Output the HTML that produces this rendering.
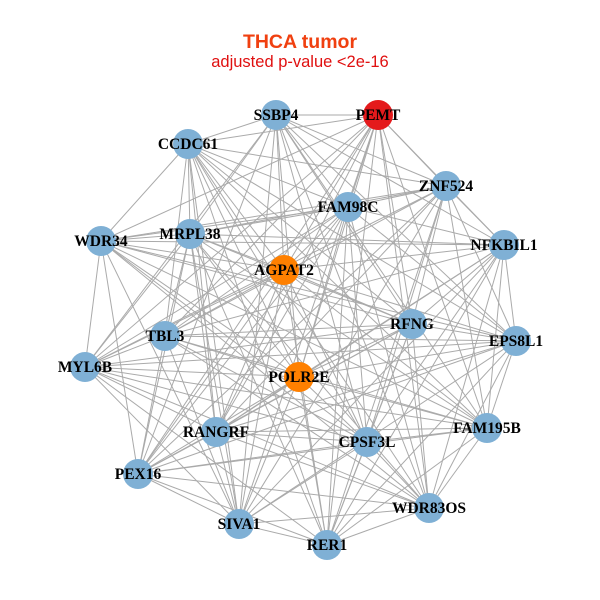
<!DOCTYPE html>
<html><head><meta charset="utf-8"><style>
html,body{margin:0;padding:0;background:#fff;width:600px;height:600px;overflow:hidden}
svg text{font-family:"Liberation Serif",serif;font-weight:bold;font-size:15.5px;text-anchor:middle}
</style></head><body>
<svg id="s" width="600" height="600" xmlns="http://www.w3.org/2000/svg">
<g id="edges" stroke="#aaaaaa" stroke-width="1"></g>
<g id="nodes"></g>
<text x="300" y="48" style="font-family:'Liberation Sans',sans-serif;font-size:19.5px;fill:#f04010">THCA tumor</text>
<text x="300" y="67" style="font-family:'Liberation Sans',sans-serif;font-weight:normal;font-size:16.5px;fill:#e01010">adjusted p-value &lt;2e-16</text>
<g id="labels">
<text x="276" y="120">SSBP4</text>
<text x="378" y="120">PEMT</text>
<text x="188" y="149">CCDC61</text>
<text x="446" y="191">ZNF524</text>
<text x="348" y="212">FAM98C</text>
<text x="101" y="246">WDR34</text>
<text x="190" y="239">MRPL38</text>
<text x="504" y="250">NFKBIL1</text>
<text x="284" y="275">AGPAT2</text>
<text x="412" y="329">RFNG</text>
<text x="165" y="341">TBL3</text>
<text x="516" y="346">EPS8L1</text>
<text x="85" y="372">MYL6B</text>
<text x="299" y="382">POLR2E</text>
<text x="487" y="433">FAM195B</text>
<text x="216" y="437">RANGRF</text>
<text x="367" y="447">CPSF3L</text>
<text x="138" y="479">PEX16</text>
<text x="429" y="513">WDR83OS</text>
<text x="239" y="529">SIVA1</text>
<text x="327" y="550">RER1</text>
</g>
</svg>
<script>
var N=[[276,115,'#7fb0d5'],[378,115,'#e41a1c'],[188,144,'#7fb0d5'],[446,186,'#7fb0d5'],[348,207,'#7fb0d5'],[101,241,'#7fb0d5'],[190,234,'#7fb0d5'],[504,245,'#7fb0d5'],[284,270,'#ff8000'],[412,324,'#7fb0d5'],[165,336,'#7fb0d5'],[516,341,'#7fb0d5'],[85,367,'#7fb0d5'],[299,377,'#ff8000'],[487,428,'#7fb0d5'],[216,432,'#7fb0d5'],[367,442,'#7fb0d5'],[138,474,'#7fb0d5'],[429,508,'#7fb0d5'],[239,524,'#7fb0d5'],[327,545,'#7fb0d5']];
var ns='http://www.w3.org/2000/svg',E=document.getElementById('edges'),G=document.getElementById('nodes');
for(var i=0;i<N.length;i++)for(var j=i+1;j<N.length;j++){if((i*7+j*3)%5==0)continue;var l=document.createElementNS(ns,'line');l.setAttribute('x1',N[i][0]);l.setAttribute('y1',N[i][1]);l.setAttribute('x2',N[j][0]);l.setAttribute('y2',N[j][1]);E.appendChild(l);}
N.forEach(function(n){var c=document.createElementNS(ns,'circle');c.setAttribute('cx',n[0]);c.setAttribute('cy',n[1]);c.setAttribute('r',15);c.setAttribute('fill',n[2]);G.appendChild(c);});
</script>
</body></html>
